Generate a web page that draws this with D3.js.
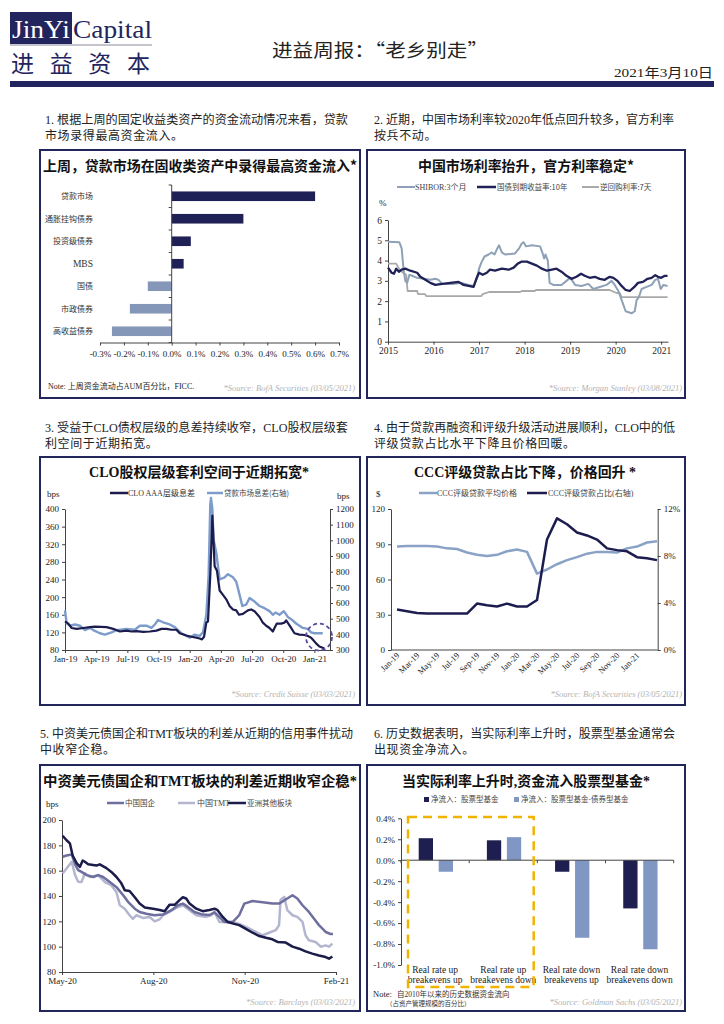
<!DOCTYPE html>
<html><head><meta charset="utf-8">
<script src="https://cdn.jsdelivr.net/npm/d3@7"></script>
<style>
body{margin:0;background:#fff;}
svg{display:block;}
</style></head><body>
<svg id="page" width="724" height="1024"></svg>
<script>
// ---------- DATA ----------
// Chart 1: fund flows last week (% of AUM)
const flowCategories = ["贷款市场","通胀挂钩债券","投资级债券","MBS","国债","市政债券","高收益债券"];
const flowValues = [0.6, 0.3, 0.08, 0.05, -0.1, -0.175, -0.25];
const flowTicks = [-0.3,-0.2,-0.1,0,0.1,0.2,0.3,0.4,0.5,0.6,0.7];

// Chart 2: China rates (decimal year, %)
const shiborT = [2015.00,2015.25,2015.30,2015.34,2015.38,2015.42,2015.47,2015.53,2015.64,2015.79,2015.93,2016.04,2016.11,2016.19,2016.41,2016.62,2016.77,2016.88,2016.95,2017.00,2017.05,2017.12,2017.21,2017.28,2017.34,2017.40,2017.44,2017.50,2017.57,2017.79,2017.88,2017.94,2017.98,2018.03,2018.16,2018.34,2018.39,2018.43,2018.46,2018.51,2018.55,2018.63,2018.81,2018.92,2019.00,2019.05,2019.11,2019.25,2019.40,2019.51,2019.65,2019.80,2019.91,2019.98,2020.06,2020.14,2020.22,2020.35,2020.42,2020.46,2020.51,2020.57,2020.68,2020.79,2020.87,2020.93,2020.99,2021.05,2021.14];
const shiborV = [4.93,4.9,4.6,3.6,3.0,2.9,3.3,3.25,3.15,3.1,3.05,3.1,3.05,2.85,2.85,2.9,2.8,2.75,3.1,3.6,3.9,4.2,4.3,4.4,4.3,4.6,4.75,4.4,4.3,4.35,4.6,4.85,4.9,4.7,4.75,4.7,4.4,4.1,4.3,4.0,2.9,2.8,2.8,3.0,3.15,3.0,2.8,2.75,2.85,2.6,2.7,2.8,3.0,2.8,2.5,2.0,1.5,1.4,1.5,2.05,2.2,2.6,2.7,2.8,3.05,3.1,2.6,2.8,2.75];
const cgb10T = [2015.00,2015.08,2015.13,2015.18,2015.24,2015.30,2015.38,2015.49,2015.64,2015.71,2015.82,2015.93,2016.04,2016.19,2016.37,2016.55,2016.66,2016.77,2016.88,2016.94,2017.00,2017.08,2017.17,2017.24,2017.35,2017.50,2017.65,2017.76,2017.85,2017.94,2018.05,2018.16,2018.27,2018.38,2018.49,2018.60,2018.70,2018.81,2018.92,2019.03,2019.14,2019.24,2019.32,2019.43,2019.54,2019.65,2019.76,2019.87,2019.95,2020.04,2020.13,2020.22,2020.31,2020.41,2020.49,2020.60,2020.70,2020.79,2020.87,2020.93,2021.00,2021.08,2021.14];
const cgb10V = [3.65,3.4,3.35,3.6,3.45,3.55,3.6,3.5,3.4,3.2,3.05,2.9,2.8,2.85,2.9,2.95,2.8,2.75,2.7,3.1,3.4,3.3,3.4,3.55,3.5,3.6,3.55,3.65,3.85,3.95,3.95,3.85,3.75,3.6,3.5,3.55,3.6,3.45,3.25,3.1,3.2,3.35,3.25,3.15,3.2,3.1,3.05,3.2,3.15,3.0,2.75,2.55,2.5,2.7,2.9,2.95,3.1,3.15,3.28,3.2,3.15,3.25,3.25];
const repoT = [2015.00,2015.18,2015.24,2015.33,2015.40,2015.43,2015.64,2015.66,2015.81,2015.84,2017.05,2017.08,2017.22,2017.90,2017.94,2018.22,2018.25,2019.87,2019.92,2020.02,2020.09,2020.13,2021.14];
const repoV = [3.85,3.85,3.6,3.4,3.3,2.5,2.5,2.35,2.35,2.25,2.25,2.35,2.45,2.45,2.5,2.5,2.55,2.55,2.5,2.4,2.4,2.2,2.2];
const rateYearTicks = [2015,2016,2017,2018,2019,2020,2021];
const rateTicks = [0,1,2,3,4,5,6];

// Chart 3: CLO spreads (months since Jan-19, bps)
const cloT = [0,0.32,0.64,1.12,1.76,2.4,2.88,4.0,4.64,5.28,5.92,6.4,6.88,7.52,8.16,8.8,9.28,9.76,10.24,10.72,11.04,11.68,12.16,12.64,12.96,13.18,13.38,13.6,13.76,13.98,14.18,14.4,14.62,14.88,15.2,15.52,15.84,16.16,16.48,16.74,17.12,17.6,17.92,18.24,18.72,19.04,19.36,19.68,20.0,20.16,20.38,20.8,21.12,21.28,21.54,21.76,22.08,22.56,23.04,23.36,23.68,23.84,24.16,24.48,24.8,24.96];
const cloV = [145,140,130,128,130,132,133,132,128,122,124,122,123,121,122,124,128,128,126,126,118,113,110,108,106,104,110,142,145,250,385,270,260,215,205,195,180,172,170,160,162,170,172,168,155,142,135,130,122,130,140,140,142,147,138,130,118,115,114,112,108,104,95,88,85,84];
const loanT = [0,0.16,0.48,0.96,1.44,1.92,2.4,2.72,3.36,3.84,4.48,4.96,5.92,6.72,7.2,7.84,8.32,8.64,8.96,9.44,10.08,10.56,10.88,11.2,11.68,12.0,12.48,12.96,13.28,13.6,13.82,13.98,14.05,14.18,14.3,14.56,14.88,15.36,15.68,16.16,16.48,16.8,17.06,17.44,17.76,18.24,18.72,19.2,19.68,20.0,20.26,20.64,21.06,21.44,21.76,22.24,22.88,23.36,23.68,24.0,24.8];
const loanV = [553,469,455,463,455,427,441,427,407,398,413,427,435,429,455,455,441,463,491,477,463,446,427,407,390,379,398,390,413,525,778,1228,1270,1200,1003,919,750,764,784,764,736,652,581,590,632,609,581,567,548,525,539,525,548,511,497,469,441,435,413,407,407];
const cloMonthTicks = [0,3,6,9,12,15,18,21,24];
const cloMonthLabels = ["Jan-19","Apr-19","Jul-19","Oct-19","Jan-20","Apr-20","Jul-20","Oct-20","Jan-21"];
const cloLeftTicks = [80,120,160,200,240,280,320,360,400];
const cloRightTicks = [300,400,500,600,700,800,900,1000,1100,1200];

// Chart 4: CCC loans (monthly Jan-19 .. Mar-21)
const cccMonths = ["Jan-19","Feb-19","Mar-19","Apr-19","May-19","Jun-19","Jul-19","Aug-19","Sep-19","Oct-19","Nov-19","Dec-19","Jan-20","Feb-20","Mar-20","Apr-20","May-20","Jun-20","Jul-20","Aug-20","Sep-20","Oct-20","Nov-20","Dec-20","Jan-21","Feb-21","Mar-21"];
const cccPrice = [88,88.5,88.5,88.5,88,86.5,86,83,81,80,81,84,85.5,83.5,65,68.5,73,76.5,79,82,83.5,83.5,83,86.5,88,91.5,92.5];
const cccShare = [3.45,3.3,3.15,3.1,3.1,3.1,3.1,3.1,3.95,3.8,3.7,3.95,3.7,3.7,4.25,9.4,11.2,10.7,10.0,9.75,9.4,8.65,8.5,8.4,7.9,7.8,7.65];
const cccLeftTicks = [0,30,60,90,120];
const cccRightTicks = [0,4,8,12];

// Chart 5: USD bond spreads (months since May-20, bps)
const asiaT = [0.02,0.15,0.26,0.35,0.48,0.59,0.68,0.75,0.86,1.13,1.24,1.46,1.62,1.79,1.95,2.06,2.22,2.39,2.55,2.72,2.99,3.21,3.37,3.53,3.70,3.86,3.97,4.08,4.19,4.41,4.62,4.84,5.01,5.11,5.28,5.44,5.66,5.82,6.04,6.26,6.48,6.70,6.91,7.08,7.35,7.57,7.79,8.0,8.22,8.44,8.66,8.77,8.88];
const asiaV = [187.6,184,181.5,172,166,163,168,167,165,164,165,162,159,155,150,144.6,144,139,134,131,130,129,128,133,133,136.7,139,138,134,130,128,129,130,128.8,123.5,119.5,118,117,114,111,108.4,107,105.8,103.7,103.2,100,98.4,96.3,94.5,93,91.8,90.5,92.3];
const soeT = [0.02,0.15,0.32,0.43,0.53,0.64,0.81,1.03,1.19,1.35,1.57,1.79,2.01,2.17,2.39,2.55,2.77,3.04,3.32,3.59,3.81,3.97,4.13,4.35,4.62,4.84,5.01,5.17,5.33,5.61,5.82,5.99,6.26,6.59,6.91,7.13,7.40,7.57,7.73,7.90,8.11,8.28,8.44,8.66,8.82,8.90];
const soeV = [171,172,172.8,165,160.4,159,156.5,155,156.5,155,151,147,140.6,135.4,130,127.4,126,124.8,125.3,128.8,132.7,134,131.4,127.4,125.3,125,127,123.5,119.5,119.5,124.8,134,136,135,134,134,138,140.6,138,132.7,127.4,122,117,111.6,110,110];
const tmtT = [0.02,0.15,0.32,0.43,0.53,0.64,0.75,0.92,1.19,1.41,1.62,1.79,1.90,2.06,2.22,2.33,2.44,2.66,2.88,3.04,3.21,3.32,3.53,3.75,3.97,4.19,4.41,4.73,4.90,5.01,5.17,5.39,5.61,5.82,6.04,6.37,6.59,6.80,7.02,7.13,7.18,7.30,7.40,7.57,7.73,7.90,8.0,8.11,8.33,8.50,8.66,8.77,8.88];
const tmtV = [157.8,161.7,167,156.5,151.2,151,158,155,156.5,151,148.5,143,132.7,130,124.8,122,124.8,122.7,123.5,120,121.6,124.8,127.4,130.6,132.7,128.8,124.8,123.5,124.8,127.4,119.5,119.5,119.5,118,115.6,111.6,109,111,113,117,137,139.3,128.8,124.8,123.5,119.5,109,105,103.7,100,101,100,102.4];
const spreadMonthTicks = [0,3,6,9];
const spreadMonthLabels = ["May-20","Aug-20","Nov-20","Feb-21"];
const spreadTicks = [80,100,120,140,160,180,200];

// Chart 6: flows by regime (% of AUM)
const regimeLine1 = ["Real rate up","Real rate up","Real rate down","Real rate down"];
const regimeLine2 = ["breakevens up","breakevens down","breakevens up","breakevens down"];
const equityFlow = [0.21, 0.19, -0.11, -0.46];
const equityMinusBond = [-0.11, 0.22, -0.74, -0.85];
const regimeTicks = [-1.0,-0.8,-0.6,-0.4,-0.2,0,0.2,0.4];

// ---------- DRAWING ----------
const SERIF = "'Liberation Serif','Noto Sans CJK SC',serif";
const CJK = "'Noto Sans CJK SC','Liberation Serif',sans-serif";
const svg = d3.select('#page');

function txt(x,y,s,o={}){
  const t = svg.append('text').attr('x',x).attr('y',y).text(s)
    .attr('font-size',o.size||10).attr('fill',o.fill||'#222')
    .attr('text-anchor',o.anchor||'start').attr('font-family',o.family||SERIF);
  if(o.weight) t.attr('font-weight',o.weight);
  if(o.style) t.attr('font-style',o.style);
  if(o.len) t.attr('textLength',o.len).attr('lengthAdjust',o.adjust||'spacingAndGlyphs');
  if(o.ls!==undefined) t.attr('letter-spacing',o.ls);
  return t;
}
function styleAxis(g,size){
  g.selectAll('path.domain').attr('stroke','#444').attr('stroke-width',1);
  g.selectAll('.tick line').attr('stroke','#444');
  g.selectAll('.tick text').attr('font-size',size||9).attr('fill','#222').attr('font-family',SERIF);
}
function box(x,y,w,h){
  svg.append('rect').attr('x',x).attr('y',y).attr('width',w).attr('height',h)
    .attr('fill','none').attr('stroke','#23265a').attr('stroke-width',2);
}
function legLine(x1,x2,y,color,w){
  svg.append('line').attr('x1',x1).attr('x2',x2).attr('y1',y).attr('y2',y)
    .attr('stroke',color).attr('stroke-width',w||2.5);
}
function src(x,y,s){ txt(x,y,s,{size:8.5,fill:'#b3b3b3',anchor:'end',style:'italic'}); }
function drawLine(T,V,xs,ys,color,w){
  const pts = T.map((t,i)=>[t,V[i]]);
  svg.append('path').datum(pts)
    .attr('d',d3.line().x(d=>xs(d[0])).y(d=>ys(d[1])))
    .attr('fill','none').attr('stroke',color).attr('stroke-width',w).attr('stroke-linejoin','round');
}

// Header
svg.append('rect').attr('x',10).attr('y',12).attr('width',62).attr('height',32).attr('fill','#22245e');
txt(12,38,'JinYi',{size:25,fill:'#fff',len:58});
txt(73,38,'Capital',{size:25,fill:'#22245e',len:79});
svg.append('line').attr('x1',10).attr('x2',152).attr('y1',45).attr('y2',45).attr('stroke','#8a8a9a').attr('stroke-width',1);
txt(11,72,'进益资本',{size:23,fill:'#22245e',family:CJK,len:139,adjust:'spacing'});
txt(380,57,'进益周报：“老乡别走”',{size:18,fill:'#222',anchor:'middle',family:CJK,len:216});
txt(713,77,'2021年3月10日',{size:13,fill:'#222',anchor:'end',len:99});
svg.append('rect').attr('x',10).attr('y',81).attr('width',704).attr('height',6).attr('fill','#22245e');

// Paragraphs
const paras = [
  [45,124,303,"1. 根据上周的固定收益类资产的资金流动情况来看，贷款","市场录得最高资金流入。"],
  [374,124,300,"2. 近期，中国市场利率较2020年低点回升较多，官方利率","按兵不动。"],
  [45,432,303,"3. 受益于CLO债权层级的息差持续收窄，CLO股权层级套","利空间于近期拓宽。"],
  [374,432,301,"4. 由于贷款再融资和评级升级活动进展顺利，CLO中的低","评级贷款占比水平下降且价格回暖。"],
  [40,738,313,"5. 中资美元债国企和TMT板块的利差从近期的信用事件扰动","中收窄企稳。"],
  [374,738,301,"6. 历史数据表明，当实际利率上升时，股票型基金通常会","出现资金净流入。"]
];
paras.forEach(p=>{
  txt(p[0],p[1],p[3],{size:12,fill:'#222',len:p[2]});
  txt(p[0],p[1]+15.5,p[4],{size:12,fill:'#222',ls:0.6});
});

// Boxes & titles
box(40,150,320,248); box(367,150,318,248);
box(40,457,320,248); box(367,457,318,248);
box(40,765,320,246); box(367,765,318,246);
txt(43,171,'上周，贷款市场在固收类资产中录得最高资金流入*',{size:14,weight:700,fill:'#111',family:CJK,len:314});
txt(526,171,'中国市场利率抬升，官方利率稳定*',{size:14,weight:700,fill:'#111',family:CJK,anchor:'middle',len:216});
txt(199,477,'CLO股权层级套利空间于近期拓宽*',{size:14,weight:700,fill:'#111',anchor:'middle',len:220});
txt(525,477,'CCC评级贷款占比下降，价格回升 *',{size:14,weight:700,fill:'#111',anchor:'middle',len:222});
txt(43,786,'中资美元债国企和TMT板块的利差近期收窄企稳*',{size:14,weight:700,fill:'#111',len:314});
txt(526,786,'当实际利率上升时,资金流入股票型基金*',{size:14,weight:700,fill:'#111',anchor:'middle',len:248});

// ---------- Chart 1 ----------
{
  const x = d3.scaleLinear().domain([-0.3,0.7]).range([100,339]);
  const y = d3.scaleBand().domain(flowCategories).range([185,342.5]);
  svg.append('g').selectAll('rect').data(flowCategories).join('rect')
    .attr('x',(d,i)=>x(Math.min(0,flowValues[i])))
    .attr('width',(d,i)=>Math.abs(x(flowValues[i])-x(0)))
    .attr('y',d=>y(d)+y.bandwidth()/2-4.8).attr('height',9.6)
    .attr('fill',(d,i)=>flowValues[i]>=0?'#1f2055':'#8497b8');
  const gx = svg.append('g').attr('transform','translate(0,342.5)')
    .call(d3.axisBottom(x).tickValues(flowTicks).tickSize(3).tickSizeOuter(0).tickFormat(d=>d.toFixed(1)+'%'));
  styleAxis(gx,9); gx.selectAll('.tick text').attr('dy','0.9em');
  const x0 = x(0);
  svg.append('line').attr('x1',x0).attr('x2',x0).attr('y1',185).attr('y2',342.5).attr('stroke','#444');
  for(let i=0;i<=flowCategories.length;i++){
    const yy = 185 + i*y.bandwidth();
    svg.append('line').attr('x1',x0-3).attr('x2',x0).attr('y1',yy).attr('y2',yy).attr('stroke','#444');
  }
  flowCategories.forEach(c=>{
    txt(93,y(c)+y.bandwidth()/2+3,c,{size:c==='MBS'?9.5:8,fill:'#333',anchor:'end',family:c==='MBS'?SERIF:CJK});
  });
  txt(48,389,'Note: 上周资金流动占AUM百分比，FICC.',{size:8,fill:'#222'});
  src(355,391,'*Source: BofA Securities (03/05/2021)');
}

// ---------- Chart 2 ----------
{
  const x = d3.scaleLinear().domain([2015,2021.15]).range([388,668]);
  const y = d3.scaleLinear().domain([0,6]).range([341.7,220]);
  const gy = svg.append('g').attr('transform','translate(388,0)')
    .call(d3.axisLeft(y).tickValues(rateTicks).tickFormat(d3.format('d')).tickSize(3).tickSizeOuter(0));
  styleAxis(gy,9.5);
  const gx = svg.append('g').attr('transform','translate(0,341.7)')
    .call(d3.axisBottom(x).tickValues(rateYearTicks).tickFormat(d3.format('d')).tickSize(3).tickSizeOuter(0));
  styleAxis(gx,9.5);
  drawLine(repoT,repoV,x,y,'#a9a9a9',1.8);
  drawLine(shiborT,shiborV,x,y,'#8ea1b7',2);
  drawLine(cgb10T,cgb10V,x,y,'#1f2157',2.3);
  txt(379,206,'%',{size:9});
  legLine(397,415,187,'#8ea1b7',2); txt(415,190,'SHIBOR:3个月',{size:8,fill:'#444'});
  legLine(477,496,187,'#1f2157',2.5); txt(497,190,'国债到期收益率:10年',{size:7.5,fill:'#444',family:CJK});
  legLine(582,599,187,'#a9a9a9',2); txt(600,190,'逆回购利率:7天',{size:7.5,fill:'#444',family:CJK});
  src(682,391,'*Source: Morgan Stanley (03/08/2021)');
}

// ---------- Chart 3 ----------
{
  const x = d3.scaleLinear().domain([0,25.5]).range([65,330]);
  const yL = d3.scaleLinear().domain([80,400]).range([650,509]);
  const yR = d3.scaleLinear().domain([300,1200]).range([650,509]);
  const gy = svg.append('g').attr('transform','translate(65,0)')
    .call(d3.axisLeft(yL).tickValues(cloLeftTicks).tickFormat(d3.format('d')).tickSize(3).tickSizeOuter(0));
  styleAxis(gy,9);
  const gr = svg.append('g').attr('transform','translate(330,0)')
    .call(d3.axisRight(yR).tickValues(cloRightTicks).tickFormat(d3.format('d')).tickSize(3).tickSizeOuter(0));
  styleAxis(gr,9);
  const gx = svg.append('g').attr('transform','translate(0,650)')
    .call(d3.axisBottom(x).tickValues(cloMonthTicks).tickFormat((d,i)=>cloMonthLabels[i]).tickSize(3).tickSizeOuter(0));
  styleAxis(gx,9);
  drawLine(loanT,loanV,x,yR,'#7d9ccb',2.4);
  drawLine(cloT,cloV,x,yL,'#1b1c4d',2.2);
  svg.append('ellipse').attr('cx',319).attr('cy',637).attr('rx',13).attr('ry',13.5)
    .attr('fill','none').attr('stroke','#5b4b9b').attr('stroke-width',1.8).attr('stroke-dasharray','4,3');
  txt(47,497,'bps',{size:9,fill:'#222'});
  txt(337,499,'bps',{size:9,fill:'#222'});
  legLine(110,128,493,'#1b1c4d',2.5); txt(128,496,'CLO AAA层级息差',{size:8,fill:'#333'});
  legLine(207,223,493,'#7d9ccb',2.5); txt(224,496,'贷款市场息差(右轴)',{size:7.5,fill:'#444',family:CJK});
  src(355,697,'*Source: Credit Suisse (03/03/2021)');
}

// ---------- Chart 4 ----------
{
  const x = d3.scaleLinear().domain([0,26]).range([397,657]);
  const yL = d3.scaleLinear().domain([0,120]).range([650,509]);
  const yR = d3.scaleLinear().domain([0,12]).range([650,509]);
  const idx = cccMonths.map((m,i)=>i);
  const gy = svg.append('g').attr('transform','translate(391,0)')
    .call(d3.axisLeft(yL).tickValues(cccLeftTicks).tickSize(3).tickSizeOuter(0));
  styleAxis(gy,9);
  const gr = svg.append('g').attr('transform','translate(657.7,0)')
    .call(d3.axisRight(yR).tickValues(cccRightTicks).tickFormat(d=>d+'%').tickSize(3).tickSizeOuter(0));
  styleAxis(gr,9);
  svg.append('line').attr('x1',391).attr('x2',657.7).attr('y1',650).attr('y2',650).attr('stroke','#444');
  svg.append('g').selectAll('text').data(idx.filter(i=>i%2===0&&i<=24)).join('text')
    .attr('transform',i=>`translate(${x(i)+3},${656}) rotate(-45)`)
    .attr('text-anchor','end').attr('font-size',8.5).attr('font-family',SERIF).attr('fill','#222')
    .text(i=>cccMonths[i]);
  drawLine(idx,cccPrice,x,yL,'#8aa2c6',2.5);
  drawLine(idx,cccShare,x,yR,'#1c1d4e',2.5);
  txt(376,497,'$',{size:9});
  legLine(419,437,493,'#8aa2c6',2.5); txt(437,496,'CCC评级贷款平均价格',{size:8,fill:'#444'});
  legLine(527,547,493,'#1c1d4e',2.5); txt(548,496,'CCC评级贷款占比(右轴)',{size:8,fill:'#444'});
  src(682,697,'*Source: BofA Securities (03/05/2021)');
}

// ---------- Chart 5 ----------
{
  const x = d3.scaleLinear().domain([0,9]).range([62,336]);
  const y = d3.scaleLinear().domain([80,200]).range([972,820]);
  const gy = svg.append('g').attr('transform','translate(62,0)')
    .call(d3.axisLeft(y).tickValues(spreadTicks).tickSize(3).tickSizeOuter(0));
  styleAxis(gy,9);
  const gx = svg.append('g').attr('transform','translate(0,972)')
    .call(d3.axisBottom(x).tickValues(spreadMonthTicks).tickFormat((d,i)=>spreadMonthLabels[i]).tickSize(3).tickSizeOuter(0));
  styleAxis(gx,9);
  drawLine(tmtT,tmtV,x,y,'#b4b6cf',2.5);
  drawLine(soeT,soeV,x,y,'#6e6f9e',2.5);
  drawLine(asiaT,asiaV,x,y,'#1b1c4a',2.5);
  txt(46,807,'bps',{size:9,fill:'#222'});
  legLine(107,124,803,'#6e6f9e',2.5); txt(125,806,'中国国企',{size:7.5,fill:'#444',family:CJK});
  legLine(178,195,803,'#b4b6cf',2.5); txt(197,806,'中国TMT',{size:8,fill:'#444'});
  legLine(228,246,803,'#1b1c4a',2.5); txt(247,806,'亚洲其他板块',{size:7.5,fill:'#444',family:CJK});
  src(355,1005,'*Source: Barclays (03/03/2021)');
}

// ---------- Chart 6 ----------
{
  const cats = regimeLine1.map((d,i)=>i);
  const x = d3.scaleBand().domain(cats).range([401,673.7]);
  const y = d3.scaleLinear().domain([-1.0,0.4]).range([965,818.3]);
  const gy = svg.append('g').attr('transform','translate(401,0)')
    .call(d3.axisLeft(y).tickValues(regimeTicks).tickFormat(d=>d.toFixed(1)+'%').tickSize(3).tickSizeOuter(0));
  styleAxis(gy,9);
  const bw = 14.3;
  svg.append('g').selectAll('rect').data(cats).join('rect')
    .attr('x',i=>x(i)+17.7).attr('width',bw)
    .attr('y',i=>y(Math.max(0,equityFlow[i]))).attr('height',i=>Math.abs(y(equityFlow[i])-y(0)))
    .attr('fill','#1e1f50');
  svg.append('g').selectAll('rect').data(cats).join('rect')
    .attr('x',i=>x(i)+37.7).attr('width',bw)
    .attr('y',i=>y(Math.max(0,equityMinusBond[i]))).attr('height',i=>Math.abs(y(equityMinusBond[i])-y(0)))
    .attr('fill','#7f97c2');
  const y0 = y(0);
  svg.append('line').attr('x1',401).attr('x2',673.7).attr('y1',y0).attr('y2',y0).attr('stroke','#444');
  for(let i=0;i<=cats.length;i++){
    const xx = 401 + i*x.bandwidth();
    svg.append('line').attr('x1',xx).attr('x2',xx).attr('y1',y0).attr('y2',y0+3).attr('stroke','#444');
  }
  cats.forEach(i=>{
    txt(x(i)+x.bandwidth()/2,973,regimeLine1[i],{size:9.5,anchor:'middle',fill:'#222'});
    txt(x(i)+x.bandwidth()/2,983,regimeLine2[i],{size:9.5,anchor:'middle',fill:'#222'});
  });
  svg.append('rect').attr('x',408).attr('y',817).attr('width',125.7).attr('height',170)
    .attr('fill','none').attr('stroke','#f0b400').attr('stroke-width',2.5).attr('stroke-dasharray','9,6');
  svg.append('rect').attr('x',424).attr('y',797).attr('width',5).attr('height',5).attr('fill','#1e1f50');
  txt(431,802,'净流入：股票型基金',{size:7.5,fill:'#444',family:CJK});
  svg.append('rect').attr('x',514).attr('y',797).attr('width',5).attr('height',5).attr('fill','#7f97c2');
  txt(521,802,'净流入：股票型基金-债券型基金',{size:7.5,fill:'#444',family:CJK});
  txt(373,997,'Note:',{size:8.5,fill:'#222'});
  txt(397,997,'自2010年以来的历史数据资金流向',{size:7.5,fill:'#333'});
  txt(386,1006,'（占资产管理规模的百分比）',{size:6.5,fill:'#333',family:CJK});
  src(682,1005,'*Source: Goldman Sachs (03/05/2021)');
}
</script>
</body></html>
